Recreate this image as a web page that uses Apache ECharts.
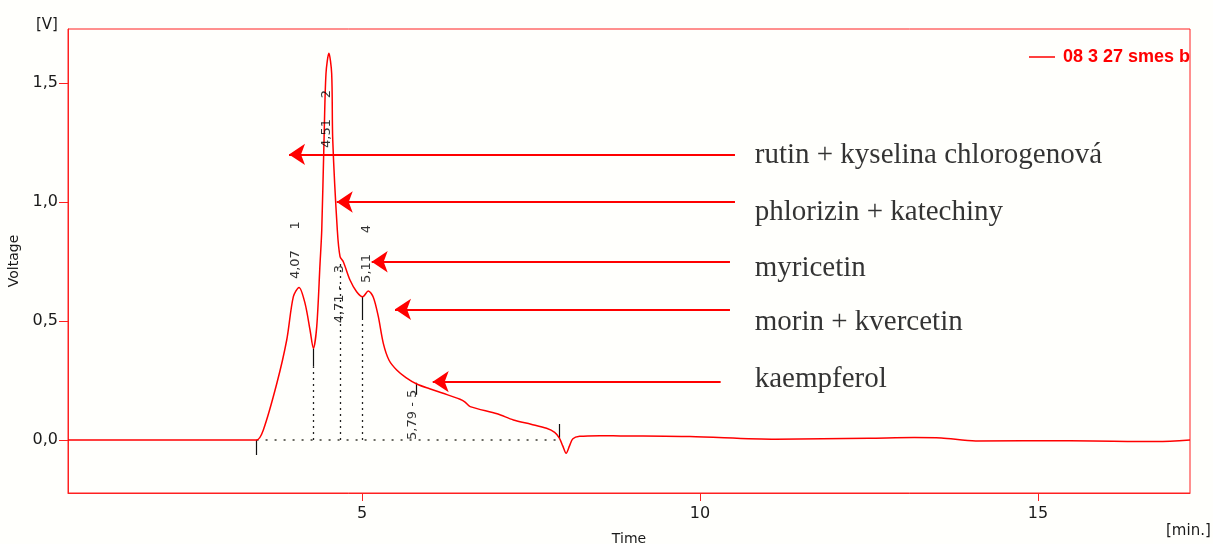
<!DOCTYPE html>
<html>
<head>
<meta charset="utf-8">
<title>chromatogram</title>
<script src="https://cdn.jsdelivr.net/npm/echarts@6/dist/echarts.min.js"></script>
<style>
html,body{margin:0;padding:0;background:#fffffc;}
#chrom{width:1213px;height:544px;}
</style>
</head>
<body>
<div id="chrom"></div>
<script>
    // namerena krivka (cas v min, napeti ve V)
    var times = [0.65, 2.0, 3.3, 3.44, 3.54, 3.74, 3.886, 3.984, 4.068, 4.157, 4.231, 4.28, 4.33, 4.379, 4.404, 4.438, 4.467, 4.51,
        4.551, 4.567, 4.635, 4.675, 4.723, 4.822, 4.92, 5.01, 5.093, 5.167, 5.24, 5.315, 5.40, 5.513, 5.65, 5.81, 6.0, 6.2, 6.45,
        6.52, 6.6, 7.0, 7.24, 7.5, 7.73, 7.85, 7.92, 7.97, 8.02, 8.07, 8.12, 8.22, 8.52, 8.82, 9.85, 11.12, 12.5, 13.17, 13.57,
        14.08, 15.47, 16.76, 17.25];
    var volts = [0, 0, 0, 0, 0.042, 0.238, 0.42, 0.602, 0.641, 0.574, 0.462, 0.385, 0.476, 0.742, 0.88, 1.26, 1.54, 1.625,
        1.54, 1.26, 0.88, 0.77, 0.749, 0.672, 0.623, 0.602, 0.626, 0.60, 0.52, 0.406, 0.335, 0.294, 0.262, 0.235, 0.215, 0.196, 0.171,
        0.16, 0.14, 0.11, 0.084, 0.066, 0.049, 0.032, 0.008, -0.025, -0.056, -0.025, 0.005, 0.015, 0.018, 0.017, 0.014, 0.003, 0.007, 0.010, 0.008,
        -0.004, -0.003, -0.007, 0];

    // popisky piku (svisle)
    var peakTimes = [4.02, 4.48, 4.675, 5.07, 5.75];
    var peakLevels = [0.676, 1.227, 0.49, 0.66, 0.0];
    var peakTexts = ["4,07     1", "4,51     2", "4,71 -   3", "5,11     4", "5,79 - 5"];

    // integrace - zakladni linie a svislice
    var baseFrom = 3.44, baseTo = 7.92;
    var dropTimes = [4.28, 4.685, 5.0];
    var dropTops = [0.31, 0.75, 0.504];
    var tickTimes = [3.44, 4.28, 5.0, 5.8, 7.92];
    var tickTops = [0, 0.385, 0.602, 0.24, 0.067];
    var tickBottoms = [-0.063, 0.31, 0.504, 0.19, 0.008];

    // sipky a nazvy latek
    var arrowTails = [10.518, 10.518, 10.444, 10.444, 10.306];
    var arrowTips = [3.92, 4.626, 5.143, 5.488, 6.046];
    var arrowLevels = [1.2, 1.0, 0.749, 0.549, 0.245];
    var compoundNames = ["rutin + kyselina chlorogenová", "phlorizin + katechiny", "myricetin", "morin + kvercetin", "kaempferol"];
    var nameTime = 10.81;
    var nameLevels = [1.194, 0.956, 0.722, 0.494, 0.256];

    var xTicks = [5, 10, 15];
    var yTicks = [0, 0.5, 1.0, 1.5];
    var sampleName = "08 3 27 smes b";

    function zip(a, b){
        var out = [];
        for(var i = 0; i < a.length; i++){
            out.push([a[i], b[i]]);
        }
        return out;
    }

    function creatChart(){
        var dom = document.getElementById("chrom");
        var myChart = echarts.init(dom, null, {renderer: 'canvas'});

        var arrowData = [];
        for(var i = 0; i < arrowLevels.length; i++){
            arrowData.push({coords: [[arrowTails[i], arrowLevels[i]], [arrowTips[i], arrowLevels[i]]]});
        }
        var dropData = [];
        for(var j = 0; j < dropTimes.length; j++){
            dropData.push({coords: [[dropTimes[j], 0], [dropTimes[j], dropTops[j]]]});
        }
        dropData.push({coords: [[baseFrom, 0], [baseTo, 0]], lineStyle: {type: [2, 7], width: 1.6, color: '#3a3a30'}});
        var tickData = [];
        for(var k = 0; k < tickTimes.length; k++){
            tickData.push({coords: [[tickTimes[k], tickBottoms[k]], [tickTimes[k], tickTops[k]]]});
        }
        var peakData = [];
        for(var p = 0; p < peakTimes.length; p++){
            peakData.push({value: [peakTimes[p], peakLevels[p]], name: peakTexts[p]});
        }
        var nameData = [];
        for(var n = 0; n < compoundNames.length; n++){
            nameData.push({value: [nameTime, nameLevels[n]], name: compoundNames[n]});
        }

        var option = {
            backgroundColor: '#fffffc',
            animation: false,
            legend: {
                data: [sampleName],
                left: 1024,
                top: 43,
                icon: 'rect',
                itemWidth: 26,
                itemHeight: 1.5,
                textStyle: {color: '#ff0000', fontWeight: 'bold', fontSize: 18, fontFamily: 'Liberation Sans', padding: [0, 0, 0, 3]}
            },
            grid: {
                left: 68, top: 29, right: 23, bottom: 51,
                outerBoundsMode: 'none',
                containLabel: false,
                show: true, borderColor: '#ff2020', borderWidth: 1, backgroundColor: 'transparent'
            },
            xAxis: {
                type: 'value',
                min: 0.65,
                max: 17.25,
                name: 'Time',
                nameLocation: 'middle',
                nameGap: 39,
                nameTextStyle: {color: '#1a1a1a', fontSize: 14, fontFamily: 'DejaVu Sans'},
                axisLine: {onZero: false, lineStyle: {color: '#ff2020'}},
                axisTick: {customValues: xTicks, length: 8, lineStyle: {color: '#ff2020'}},
                axisLabel: {customValues: xTicks, color: '#1a1a1a', fontSize: 16, fontFamily: 'DejaVu Sans', margin: 13},
                splitLine: {show: false}
            },
            yAxis: {
                type: 'value',
                min: -0.223,
                max: 1.727,
                name: 'Voltage',
                nameLocation: 'middle',
                nameRotate: 90,
                nameGap: 36,
                nameTextStyle: {color: '#1a1a1a', fontSize: 14, fontFamily: 'DejaVu Sans'},
                axisLine: {show: true, onZero: false, lineStyle: {color: '#ff2020'}},
                axisTick: {show: true, customValues: yTicks, length: 9, lineStyle: {color: '#ff2020'}},
                axisLabel: {
                    customValues: yTicks, color: '#1a1a1a', fontSize: 16, fontFamily: 'DejaVu Sans', margin: 10,
                    formatter: function(v){ return v.toFixed(1).replace('.', ','); }
                },
                splitLine: {show: false}
            },
            graphic: [
                {type: 'text', left: 36, top: 18, style: {text: '[V]', fill: '#1a1a1a', font: '15px "DejaVu Sans"'}},
                {type: 'text', left: 1166, top: 524, style: {text: '[min.]', fill: '#1a1a1a', font: '15px "DejaVu Sans"'}}
            ],
            series: [
                {
                    type: 'lines',
                    coordinateSystem: 'cartesian2d',
                    silent: true,
                    lineStyle: {color: '#222', width: 1.3, type: [2, 4], opacity: 1},
                    data: dropData,
                    z: 2
                },
                {
                    type: 'lines',
                    coordinateSystem: 'cartesian2d',
                    silent: true,
                    lineStyle: {color: '#111', width: 1.2, opacity: 1},
                    data: tickData,
                    z: 2
                },
                {
                    name: sampleName,
                    type: 'line',
                    data: zip(times, volts),
                    showSymbol: false,
                    smooth: 0.3,
                    clip: true,
                    color: '#ff0000',
                    lineStyle: {color: '#ff0000', width: 1.5},
                    z: 3
                },
                {
                    type: 'scatter',
                    symbolSize: 0,
                    silent: true,
                    data: peakData,
                    label: {
                        show: true, position: 'inside', rotate: 90, align: 'left', verticalAlign: 'middle',
                        color: '#000', fontSize: 13, fontFamily: 'DejaVu Sans', textBorderWidth: 0,
                        formatter: function(p){ return p.name; }
                    },
                    z: 4
                },
                {
                    type: 'lines',
                    coordinateSystem: 'cartesian2d',
                    silent: true,
                    symbol: ['none', 'arrow'],
                    symbolSize: 16,
                    lineStyle: {color: '#ff0000', width: 2, opacity: 1},
                    data: arrowData,
                    z: 5
                },
                {
                    type: 'scatter',
                    symbolSize: 0,
                    silent: true,
                    data: nameData,
                    label: {
                        show: true, position: 'inside', align: 'left', verticalAlign: 'middle',
                        color: '#000', fontSize: 29, fontFamily: 'Liberation Serif', textBorderWidth: 0,
                        formatter: function(p){ return p.name; }
                    },
                    z: 5
                }
            ]
        };
        myChart.setOption(option, true);
    }
    creatChart();
</script>
</body>
</html>
